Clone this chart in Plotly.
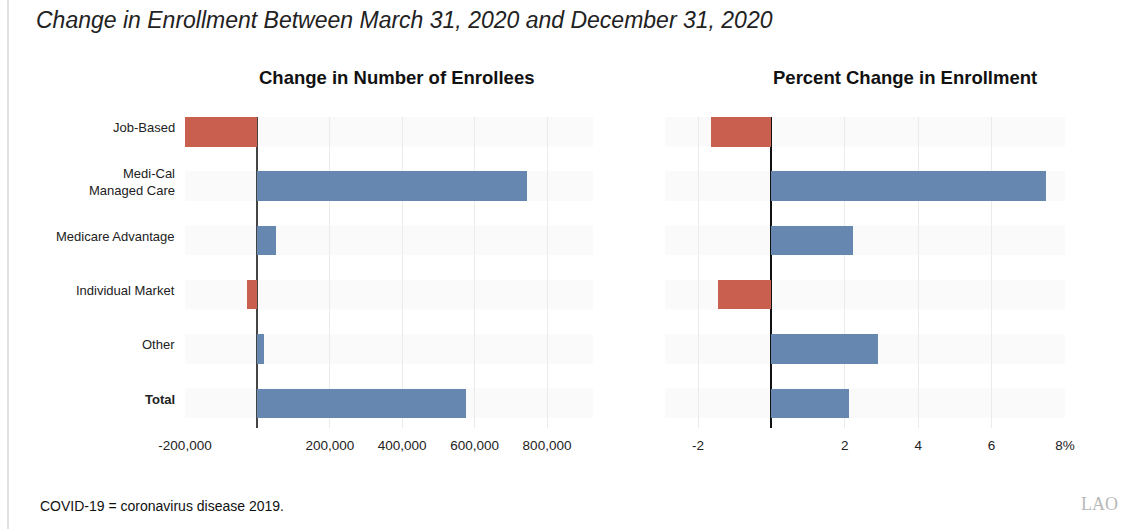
import plotly.graph_objects as go

categories = ["Job-Based", "Medi-Cal<br>Managed Care", "Medicare Advantage",
              "Individual Market", "Other", "<b>Total</b>"]
enrollee_change = [-201000, 744000, 52000, -30000, 17000, 575000]
percent_change = [-1.66, 7.49, 2.23, -1.46, 2.91, 2.12]

left_tickvals = [-200000, 200000, 400000, 600000, 800000]
left_ticktext = ["-200,000", "200,000", "400,000", "600,000", "800,000"]
right_tickvals = [-2, 2, 4, 6, 8]
right_ticktext = ["-2", "2", "4", "6", "8%"]

title_text = "Change in Enrollment Between March 31, 2020 and December 31, 2020"
left_title = "Change in Number of Enrollees"
right_title = "Percent Change in Enrollment"
footnote = "COVID-19 = coronavirus disease 2019."

RED = "#c9604f"
BLUE = "#6688b0"
W, H = 1126, 529
FONT = "Liberation Sans, Arial, sans-serif"

ypos = list(range(len(categories)))
bar_w = 0.545

fig = go.Figure()
fig.add_trace(go.Bar(
    x=enrollee_change, y=ypos, orientation="h", width=bar_w,
    marker=dict(color=[RED if v < 0 else BLUE for v in enrollee_change], line=dict(width=0)),
    xaxis="x", yaxis="y", hoverinfo="x+y", showlegend=False))
fig.add_trace(go.Bar(
    x=percent_change, y=ypos, orientation="h", width=bar_w,
    marker=dict(color=[RED if v < 0 else BLUE for v in percent_change], line=dict(width=0)),
    xaxis="x2", yaxis="y2", hoverinfo="x+y", showlegend=False))

shapes = []
for i in ypos:
    for xr, yr in (("x domain", "y"), ("x2 domain", "y2")):
        shapes.append(dict(type="rect", xref=xr, yref=yr, x0=0, x1=1,
                           y0=i - bar_w / 2, y1=i + bar_w / 2,
                           fillcolor="#fafafa", line=dict(width=0), layer="below"))
shapes.append(dict(type="line", xref="paper", yref="paper", x0=8 / W, x1=8 / W,
                   y0=0, y1=1, line=dict(color="#c4c4c4", width=1)))

yrange = [5.455, -0.2725]
ydom = [(H - 428) / H, (H - 117) / H]

annotations = [
    dict(text="<i>" + title_text + "</i>", xref="paper", yref="paper",
         x=34 / W, y=1 - 20 / H, xanchor="left", yanchor="middle", showarrow=False,
         font=dict(family=FONT, size=23, color="#222")),
    dict(text="<b>" + left_title + "</b>", xref="paper", yref="paper",
         x=397 / W, y=1 - 77 / H, xanchor="center", yanchor="middle", showarrow=False,
         font=dict(family=FONT, size=18.5, color="#111")),
    dict(text="<b>" + right_title + "</b>", xref="paper", yref="paper",
         x=905 / W, y=1 - 77 / H, xanchor="center", yanchor="middle", showarrow=False,
         font=dict(family=FONT, size=18.5, color="#111")),
    dict(text=footnote, xref="paper", yref="paper",
         x=38 / W, y=1 - 506 / H, xanchor="left", yanchor="middle", showarrow=False,
         font=dict(family=FONT, size=14, color="#111")),
    dict(text="LAO", xref="paper", yref="paper",
         x=1120 / W, y=1 - 504 / H, xanchor="right", yanchor="middle", showarrow=False,
         font=dict(family="Liberation Serif, serif", size=18, color="#b8b8b8")),
]
for i, cat in zip(ypos, categories):
    annotations.append(dict(text=cat, xref="paper", yref="y", x=177 / W, y=i,
                            xanchor="right", yanchor="middle", align="right",
                            yshift=4, showarrow=False,
                            font=dict(family=FONT, size=13, color="#222")))

fig.update_layout(
    width=W, height=H,
    margin=dict(l=0, r=0, t=0, b=0, autoexpand=False),
    paper_bgcolor="white", plot_bgcolor="white",
    font=dict(family=FONT, color="#222222"),
    bargap=0,
    shapes=shapes,
    xaxis=dict(domain=[185 / W, 593 / W], range=[-200000, 927000], automargin=False,
               tickvals=left_tickvals, ticktext=left_ticktext,
               tickfont=dict(family=FONT, size=13.5, color="#222"),
               showgrid=True, gridcolor="#ebebeb", gridwidth=1,
               zeroline=True, zerolinecolor="#444444", zerolinewidth=2,
               showline=False, ticks="outside", ticklen=5, tickcolor="rgba(0,0,0,0)",
               fixedrange=True),
    yaxis=dict(domain=ydom, range=yrange, tickvals=ypos, showticklabels=False, automargin=False,
               showgrid=False, zeroline=False, showline=False, fixedrange=True),
    xaxis2=dict(domain=[665 / W, 1065 / W], range=[-2.9, 8], anchor="y2", automargin=False,
                tickvals=right_tickvals, ticktext=right_ticktext,
                tickfont=dict(family=FONT, size=13.5, color="#222"),
                showgrid=True, gridcolor="#ebebeb", gridwidth=1,
                zeroline=True, zerolinecolor="#111111", zerolinewidth=2,
                showline=False, ticks="outside", ticklen=5, tickcolor="rgba(0,0,0,0)",
                fixedrange=True),
    yaxis2=dict(domain=ydom, range=yrange, anchor="x2", showticklabels=False, automargin=False,
                showgrid=False, zeroline=False, showline=False, fixedrange=True),
    annotations=annotations,
)

fig.write_html("out.html")
